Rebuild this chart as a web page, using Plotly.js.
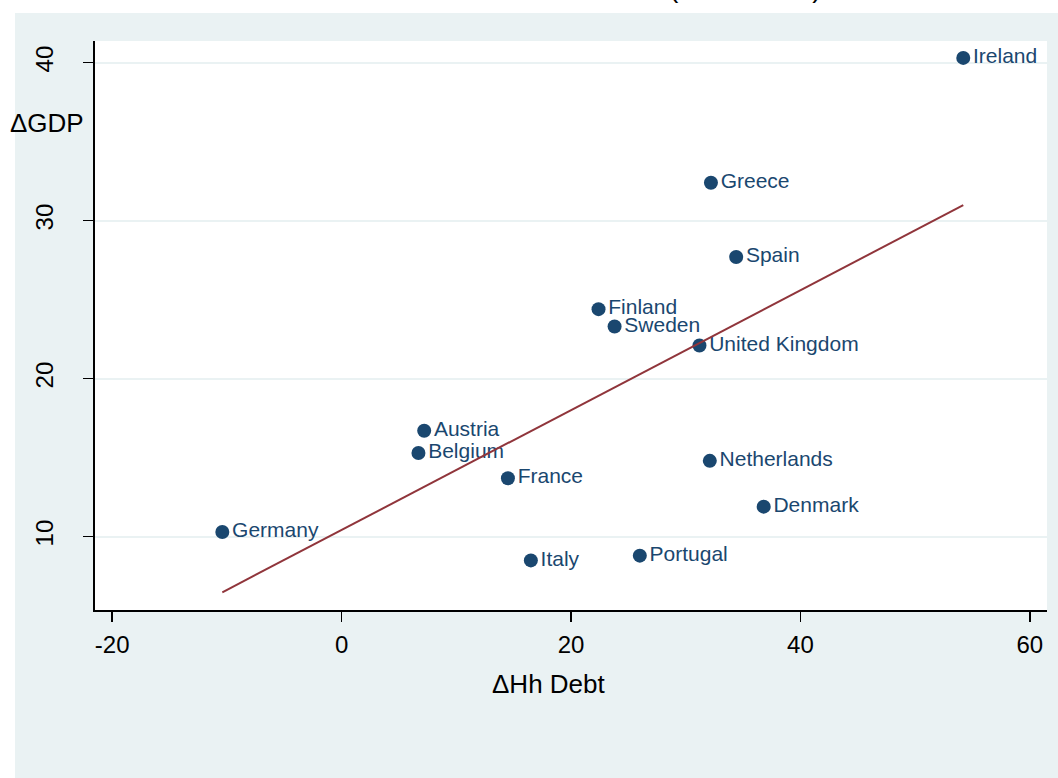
<!DOCTYPE html>
<html>
<head>
<meta charset="utf-8">
<script src="https://cdn.plot.ly/plotly-3.0.1.min.js"></script>
<style>
  html, body { margin: 0; padding: 0; background: #ffffff; }
  #chart { width: 1058px; height: 778px; }
</style>
</head>
<body>
<div id="chart"></div>
<script>
// Data
var countries = ["Ireland", "Greece", "Spain", "Finland", "Sweden", "United Kingdom",
                 "Austria", "Belgium", "France", "Netherlands", "Denmark", "Germany",
                 "Italy", "Portugal"];
var hhDebtChange = [54.2, 32.2, 34.4, 22.4, 23.8, 31.2, 7.2, 6.7, 14.5, 32.1, 36.8, -10.4, 16.5, 26.0];
var gdpChange    = [40.3, 32.4, 27.7, 24.4, 23.3, 22.1, 16.7, 15.3, 13.7, 14.8, 11.9, 10.3, 8.5, 8.8];
var xTickVals = [-20, 0, 20, 40, 60];
var xTickText = ["-20", "0", "20", "40", "60"];
var yTickVals = [10, 20, 30, 40];
var yTickText = ["10", "20", "30", "40"];
var xLabel = "\u0394Hh Debt";
var yLabel = "\u0394GDP";
var titleText = "(2000-2007)";

// Least-squares fit line over the data range
var n = hhDebtChange.length, mx = 0, my = 0;
for (var i = 0; i < n; i++) { mx += hhDebtChange[i]; my += gdpChange[i]; }
mx /= n; my /= n;
var sxy = 0, sxx = 0;
for (var i = 0; i < n; i++) {
  sxy += (hhDebtChange[i] - mx) * (gdpChange[i] - my);
  sxx += (hhDebtChange[i] - mx) * (hhDebtChange[i] - mx);
}
var slope = sxy / sxx, icpt = my - slope * mx;
var xmin = Math.min.apply(null, hhDebtChange), xmax = Math.max.apply(null, hhDebtChange);
var fitX = [xmin, xmax];
var fitY = [icpt + slope * xmin, icpt + slope * xmax];

var FONT = "Liberation Sans, Arial, Helvetica, sans-serif";
var NAVY = "#1a476f";
var BG = "#eaf2f3";

var traces = [
  {
    type: "scatter", mode: "markers+text",
    x: hhDebtChange, y: gdpChange, text: countries,
    textposition: "middle right",
    marker: { color: NAVY, size: 14 },
    textfont: { family: FONT, size: 21, color: NAVY },
    cliponaxis: false, hoverinfo: "skip"
  },
  {
    type: "scatter", mode: "lines",
    x: fitX, y: fitY,
    line: { color: "#90353b", width: 2 },
    hoverinfo: "skip"
  }
];

var layout = {
  width: 1058, height: 778,
  paper_bgcolor: "#ffffff",
  plot_bgcolor: "#ffffff",
  showlegend: false,
  margin: { l: 95, r: 11, t: 41, b: 168, pad: 0 },
  font: { family: FONT, size: 20, color: "#000000" },
  xaxis: {
    range: [-21.5, 61.5],
    tickmode: "array", tickvals: xTickVals, ticktext: xTickText,
    ticks: "outside", ticklen: 10, tickwidth: 1.5, tickcolor: "#000",
    showgrid: false, zeroline: false,
    showline: true, linecolor: "#000", linewidth: 2,
    tickfont: { family: FONT, size: 24, color: "#000" },
    ticklabelstandoff: 2
  },
  yaxis: {
    range: [5.36, 41.37],
    tickmode: "array", tickvals: yTickVals, ticktext: yTickText,
    ticks: "outside", ticklen: 10, tickwidth: 1.5, tickcolor: "#000",
    showgrid: true, gridcolor: BG, gridwidth: 2,
    zeroline: false,
    showline: true, linecolor: "#000", linewidth: 2,
    tickangle: -90,
    tickfont: { family: FONT, size: 24, color: "#000" },
    ticklabelstandoff: 20
  },
  shapes: [
    { type: "rect", xref: "paper", yref: "paper", layer: "below",
      x0: -0.084, x1: 1.03, y0: -0.32, y1: 1.0492,
      fillcolor: BG, line: { width: 0 } },
    { type: "rect", xref: "paper", yref: "paper", layer: "below",
      x0: 0, x1: 1, y0: 0, y1: 1,
      fillcolor: "#ffffff", line: { width: 0 } }
  ],
  annotations: [
    { text: yLabel, xref: "paper", yref: "y", x: -0.05, y: 36.2,
      xanchor: "center", yanchor: "middle", showarrow: false,
      font: { family: FONT, size: 26, color: "#000" } },
    { text: xLabel, xref: "paper", yref: "paper", x: 0.477, y: -0.13,
      xanchor: "center", yanchor: "middle", showarrow: false,
      font: { family: FONT, size: 26, color: "#000" } },
    { text: titleText, xref: "paper", yref: "paper", x: 0.683, y: 1.0633,
      xanchor: "center", yanchor: "bottom", showarrow: false,
      font: { family: FONT, size: 28, color: "#000" } }
  ]
};

Plotly.newPlot("chart", traces, layout, { displayModeBar: false, staticPlot: true });
</script>
</body>
</html>
